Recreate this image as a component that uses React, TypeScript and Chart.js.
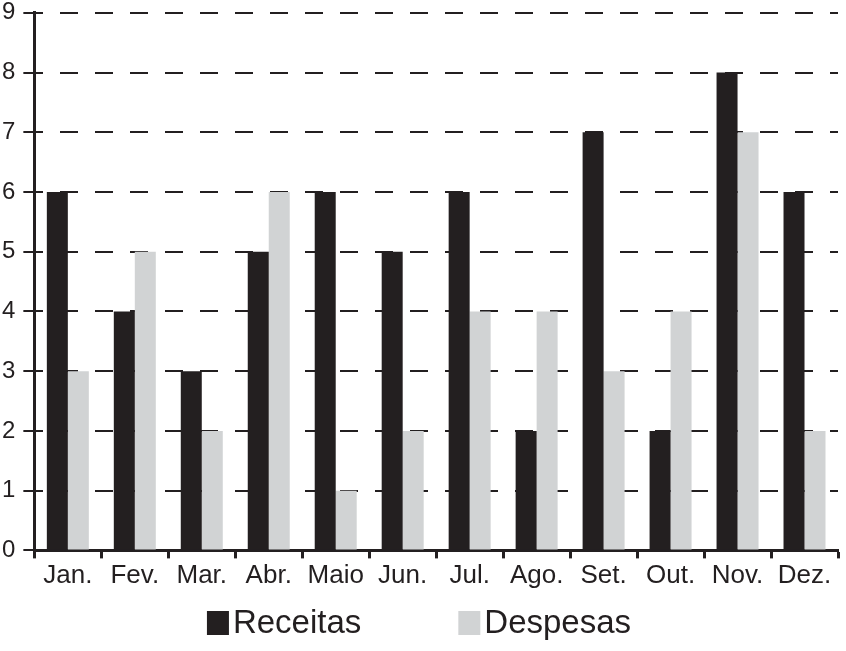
import { useEffect, useRef } from 'react';
import { Chart, registerables } from 'chart.js';

Chart.register(...registerables);

// Data
const months = ['Jan.', 'Fev.', 'Mar.', 'Abr.', 'Maio', 'Jun.', 'Jul.', 'Ago.', 'Set.', 'Out.', 'Nov.', 'Dez.'];
const receitas = [6, 4, 3, 5, 6, 5, 6, 2, 7, 2, 8, 6];
const despesas = [3, 5, 2, 6, 1, 2, 4, 4, 3, 4, 7, 2];
const seriesNames = ['Receitas', 'Despesas'];
const yMax = 9;

const INK = '#231f20';
const GRAY = '#d1d3d4';
const FONT = "'Liberation Sans', Arial, sans-serif";

// Legend drawn on the canvas: box, small gap, text, big gap between items
const bottomLegend = {
  id: 'bottomLegend',
  afterDraw: (chart: any) => {
    const { ctx } = chart;
    const box = 22;
    const boxH = 24;
    const textGap = 4;
    const itemGap = 97;
    const y = 623;
    ctx.save();
    ctx.font = `33px ${FONT}`;
    ctx.textBaseline = 'middle';
    ctx.textAlign = 'left';
    const items = chart.data.datasets.map((ds: any) => ({
      label: ds.label,
      color: ds.backgroundColor,
      w: ctx.measureText(ds.label).width,
    }));
    const total = items.reduce((s: number, it: any) => s + box + textGap + it.w, 0) + itemGap * (items.length - 1);
    let x = chart.width / 2 - 4 - total / 2;
    items.forEach((it: any) => {
      ctx.fillStyle = it.color;
      ctx.fillRect(x, y - boxH / 2, box, boxH);
      x += box + textGap;
      ctx.fillStyle = INK;
      ctx.fillText(it.label, x, y + 1);
      x += it.w + itemGap;
    });
    ctx.restore();
  },
};

const App = () => {
  const chartRef = useRef<HTMLCanvasElement>(null);
  const chartInstance = useRef<Chart | null>(null);

  useEffect(() => {
    if (!chartRef.current) return;
    if (chartInstance.current) {
      chartInstance.current.destroy();
    }
    const ctx = chartRef.current.getContext('2d');
    if (!ctx) return;

    chartInstance.current = new Chart(ctx, {
      type: 'bar',
      plugins: [bottomLegend],
      data: {
        labels: months,
        datasets: [
          { label: seriesNames[0], data: receitas, backgroundColor: INK },
          { label: seriesNames[1], data: despesas, backgroundColor: GRAY },
        ],
      },
      options: {
        animation: false,
        responsive: true,
        maintainAspectRatio: false,
        layout: { padding: { left: -6, right: 8, top: 0, bottom: 58 } },
        datasets: {
          bar: { categoryPercentage: 0.627, barPercentage: 1 },
        },
        plugins: {
          legend: { display: false },
          tooltip: { enabled: false },
        },
        scales: {
          x: {
            grid: {
              offset: true,
              drawOnChartArea: false,
              drawTicks: true,
              tickLength: 8,
              tickWidth: 3,
              tickColor: INK,
            },
            border: { display: true, color: INK, width: 3 },
            ticks: {
              autoSkip: false,
              maxRotation: 0,
              padding: 3,
              color: INK,
              font: { family: FONT, size: 26, lineHeight: 1.1 },
            },
          },
          y: {
            min: 0,
            max: yMax,
            grid: {
              color: INK,
              lineWidth: 2,
              drawTicks: true,
              tickLength: 11,
              tickWidth: 2,
              tickColor: INK,
            },
            border: { display: true, color: INK, width: 3, dash: [18, 17], dashOffset: 11 },
            ticks: {
              stepSize: 1,
              padding: 8,
              color: INK,
              font: { family: FONT, size: 24, lineHeight: 0.4 },
            },
          },
        },
      },
    });

    return () => {
      if (chartInstance.current) {
        chartInstance.current.destroy();
        chartInstance.current = null;
      }
    };
  }, []);

  return (
    <div style={{ position: 'absolute', left: 0, top: 0, width: 846, height: 651, background: '#fff' }}>
      <canvas ref={chartRef}></canvas>
    </div>
  );
};

export default App;
